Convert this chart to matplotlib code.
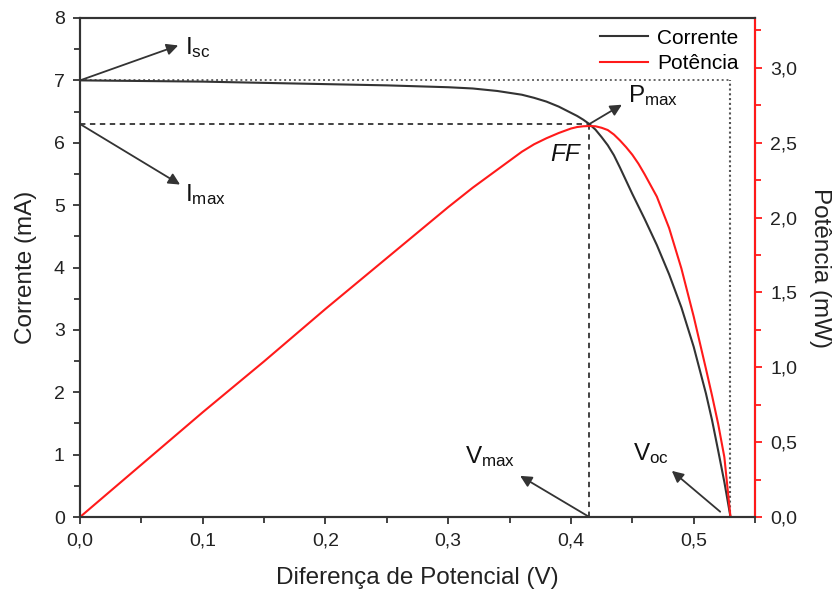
import matplotlib
matplotlib.use("Agg")
import matplotlib.pyplot as plt
from matplotlib.ticker import FuncFormatter, MultipleLocator

plt.rcParams['font.family'] = ['Liberation Sans', 'DejaVu Sans']
plt.rcParams['mathtext.fontset'] = 'custom'
plt.rcParams['mathtext.rm'] = 'Liberation Sans'
plt.rcParams['mathtext.it'] = 'Liberation Sans:italic'

# Measured I-V curve of the cell
voltage = [0.0, 0.05, 0.10, 0.15, 0.20, 0.25, 0.30, 0.32, 0.34, 0.35, 0.36, 0.37,
           0.38, 0.39, 0.395, 0.40, 0.405, 0.41, 0.415, 0.42, 0.425, 0.43, 0.435,
           0.44, 0.445, 0.45, 0.455, 0.46, 0.47, 0.48, 0.49, 0.50, 0.51, 0.515,
           0.52, 0.525, 0.53]
current = [7.00, 6.99, 6.98, 6.96, 6.94, 6.92, 6.89, 6.87, 6.83, 6.80, 6.77, 6.72,
           6.66, 6.58, 6.53, 6.48, 6.43, 6.37, 6.30, 6.21, 6.09, 5.96, 5.80,
           5.60, 5.39, 5.18, 4.98, 4.78, 4.36, 3.89, 3.36, 2.73, 1.98, 1.55,
           1.06, 0.56, 0.0]
power = [0.0, 0.35, 0.70, 1.04, 1.39, 1.73, 2.07, 2.20, 2.32, 2.38, 2.44, 2.49,
         2.53, 2.565, 2.58, 2.595, 2.605, 2.61, 2.612, 2.61, 2.60, 2.585, 2.555,
         2.515, 2.47, 2.42, 2.36, 2.29, 2.14, 1.93, 1.66, 1.34, 0.99, 0.81,
         0.62, 0.40, 0.0]

# Characteristic points
isc = 7.0
voc = 0.53
vmax = 0.415
imax = 6.30

x_ticks = [0.0, 0.1, 0.2, 0.3, 0.4, 0.5]
y_ticks = [0, 1, 2, 3, 4, 5, 6, 7, 8]
p_ticks = [0.0, 0.5, 1.0, 1.5, 2.0, 2.5, 3.0]

TXT = '#222222'
RED = '#ff1a1a'
fig = plt.figure(figsize=(8.38, 5.94), dpi=100)
ax = fig.add_axes([0.0955, 0.1296, 0.9010 - 0.0955, 0.9697 - 0.1296])
ax2 = ax.twinx()

comma = FuncFormatter(lambda v, p: f"{v:.1f}".replace('.', ','))

# reference lines for the Isc/Voc and Imax/Vmax rectangles
ax.plot([0, voc], [isc, isc], color='#666666', ls=(0, (1, 1.5)), lw=1.4)
ax.plot([voc, voc], [0, isc], color='#555555', ls=(0, (1, 1.3)), lw=1.5)
ax.plot([0, vmax], [imax, imax], color='#333333', ls=(0, (3, 2.5)), lw=1.3)
ax.plot([vmax, vmax], [0, imax], color='#333333', ls=(0, (3, 2.5)), lw=1.3)

l1, = ax.plot(voltage, current, color='#333333', lw=1.5, label='Corrente')
l2, = ax2.plot(voltage, power, color=RED, lw=1.5, label='Potência')

ax.set_xlim(0, 0.55)
ax.set_ylim(0, 8)
ax2.set_ylim(0, 8 / 2.4)

ax.set_xticks(x_ticks)
ax.set_yticks(y_ticks)
ax2.set_yticks(p_ticks)
ax.xaxis.set_major_formatter(comma)
ax2.yaxis.set_major_formatter(comma)
ax.xaxis.set_minor_locator(MultipleLocator(0.05))
ax.yaxis.set_minor_locator(MultipleLocator(0.5))
ax2.yaxis.set_minor_locator(MultipleLocator(0.25))

for a in (ax, ax2):
    for s in a.spines.values():
        s.set_linewidth(1.5)
        s.set_color('#333333')
ax2.spines['right'].set_color(RED)

ax.tick_params(axis='both', which='both', direction='out', width=1.3,
               labelsize=14, colors='#333333', labelcolor=TXT, pad=6)
ax.tick_params(which='major', length=5)
ax.tick_params(which='minor', length=4)
ax2.tick_params(axis='y', which='both', direction='out', width=1.3,
                labelsize=14, colors=RED, labelcolor=TXT, pad=6)
ax2.tick_params(which='major', length=5)
ax2.tick_params(which='minor', length=4)

ax.set_xlabel('Diferença de Potencial (V)', fontsize=17.5, color=TXT, labelpad=13)
ax.set_ylabel('Corrente (mA)', fontsize=17.5, color=TXT, labelpad=12)
ax2.set_ylabel('Potência (mW)', fontsize=17.5, color=TXT, rotation=270, labelpad=24)

ax2.legend(handles=[l1, l2], loc='upper right', frameon=False, fontsize=15,
           handlelength=2.3, borderaxespad=0.5, labelspacing=0.3,
           handletextpad=0.45, bbox_to_anchor=(1.004, 1.016))

arrow = dict(arrowstyle='-|>', color='#333333', lw=1.3, mutation_scale=17,
             shrinkA=0, shrinkB=0)
ax.annotate('', xy=(0.080, 7.56), xytext=(0.0, isc), arrowprops=arrow)
ax.annotate('', xy=(0.0815, 5.33), xytext=(0.0, imax), arrowprops=arrow)
ax.annotate('', xy=(0.4415, 6.61), xytext=(vmax, imax), arrowprops=arrow)
ax.annotate('', xy=(0.3586, 0.66), xytext=(vmax, 0.0), arrowprops=arrow)
ax.annotate('', xy=(0.4822, 0.74), xytext=(0.5216, 0.085), arrowprops=arrow)

lab = dict(fontsize=17.5, color='#111111', ha='left', va='baseline')
ax.text(0.0856, 7.42, r'$\mathregular{I_{sc}}$', **lab)
ax.text(0.0856, 5.06, r'$\mathregular{I_{max}}$', **lab)
ax.text(0.4466, 6.645, r'$\mathregular{P_{max}}$', **lab)
ax.text(0.314, 0.867, r'$\mathregular{V_{max}}$', **lab)
ax.text(0.4507, 0.915, r'$\mathregular{V_{oc}}$', **lab)
ax.text(0.383, 5.70, 'FF', fontsize=17.5, style='italic', color='#111111',
        ha='left', va='baseline')

fig.savefig('out.png', dpi=100)
